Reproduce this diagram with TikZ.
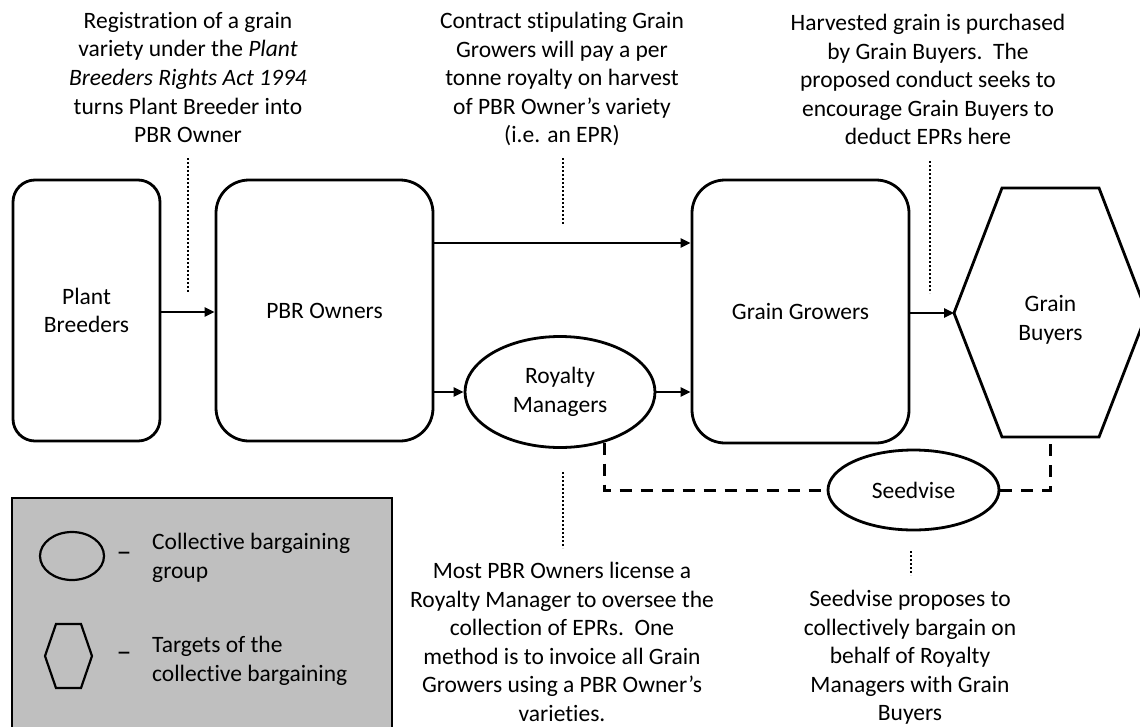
\documentclass[tikz,border=0pt]{standalone}
\usepackage{fontspec}
\setmainfont{Carlito}[Ligatures={NoCommon}]
\usetikzlibrary{shapes.geometric,arrows.meta}
\begin{document}
\begin{tikzpicture}[x=1pt,y=-1pt,
  every node/.style={font=\fontsize{23.5}{28.6}\selectfont,inner sep=0pt,align=center},
  actor/.style={draw,line width=2.8pt},
  oval/.style={draw,ellipse,line width=2.8pt},
  flow/.style={line width=2.4pt,-{Triangle[length=10pt,width=9pt]}},
  link/.style={line width=3pt,dash pattern=on 12pt off 9pt},
  note/.style={line width=2pt,dash pattern=on 1.6pt off 2.4pt},
  remark/.style={anchor=north,align=center},
  lgdash/.style={font=\fontsize{30}{30}\selectfont}]
\useasboundingbox (0,0) rectangle (1140,726);
\clip (0,0) rectangle (1140,726);

% legend box
\draw[fill={rgb,255:red,191;green,191;blue,191},line width=2pt] (12,498) rectangle (392,760);
\node[draw,ellipse,line width=2.2pt,minimum width=64pt,minimum height=48pt] (lgov) at (72,556) {};
\node[lgdash] (lgd1) at (124,557) {–};
\node[anchor=north west,align=left] (lgt1) at (152,533) {Collective bargaining\\group};
\draw[line width=2.2pt] (45,656) -- (56,624) -- (81,624) -- (92,656) -- (81,688) -- (56,688) -- cycle;
\coordinate (lghx) at (68.5,656);
\node[lgdash] (lgd2) at (124,657) {–};
\node[anchor=north west,align=left] (lgt2) at (152,636) {Targets of the\\collective bargaining};

% main boxes
\node[actor,rounded corners=22pt,minimum width=147pt,minimum height=261pt] (pb) at (86.5,310.5) {Plant\\Breeders};
\node[actor,rounded corners=33pt,minimum width=217pt,minimum height=261pt] (pbr) at (324.5,310.5) {PBR Owners};
\node[actor,rounded corners=33pt,minimum width=217pt,minimum height=263pt] (gg) at (800.5,311.5) {Grain Growers};
\node[oval,minimum width=190pt,minimum height=111pt] (rm) at (560,392) {Royalty\\Managers};
\node[oval,minimum width=171pt,minimum height=80pt] (sv) at (913.5,490) {Seedvise};

% grain buyers hexagon
\node (gb) at (1050.5,320) {Grain\\Buyers};
\coordinate (gbL) at (954,313);
\coordinate (gbB) at (1050,437);
\draw[line width=2.8pt] (gbL) -- (1002,188) -- (1099,188) -- (1147,313) -- (1099,437) -- (1002,437) -- cycle;

% flows
\draw[flow] (pb.east |- 0,312) -- (pbr.west |- 0,312);
\draw[flow] (pbr.east |- 0,243) -- (gg.west |- 0,243);
\draw[flow] (pbr.east |- rm.west) -- (rm.west);
\draw[flow] (rm.east) -- (gg.west |- rm.east);
\draw[flow] (gg.east |- gbL) -- (gbL);

% dashed links
\draw[link] (rm.-49) |- (sv.west);
\draw[link] (sv.east) -| (gbB);

% annotation texts
\node[remark] (t1) at (188,12) {Registration of a grain\\variety under the \textit{Plant}\\\textit{Breeders Rights Act 1994}\\turns Plant Breeder into\\PBR Owner};
\node[remark] (t2) at (562,12) {Contract stipulating Grain\\Growers will pay a per\\tonne royalty on harvest\\of PBR Owner’s variety\\(i.e. an EPR)};
\node[remark] (t3) at (928,14) {Harvested grain is purchased\\by Grain Buyers.\ \ The\\proposed conduct seeks to\\encourage Grain Buyers to\\deduct EPRs here};
\node[remark] (t4) at (562,562) {Most PBR Owners license a\\Royalty Manager to oversee the\\collection of EPRs.\ \ One\\method is to invoice all Grain\\Growers using a PBR Owner’s\\varieties.};
\node[remark] (t5) at (910,590) {Seedvise proposes to\\collectively bargain on\\behalf of Royalty\\Managers with Grain\\Buyers};

% dotted leaders
\coordinate (d1a) at (188,158); \coordinate (d1b) at (188,293);
\coordinate (d2a) at (563,158); \coordinate (d2b) at (563,224);
\coordinate (d3a) at (930,161); \coordinate (d3b) at (930,293);
\coordinate (d4a) at (563,472); \coordinate (d4b) at (563,548);
\coordinate (d5a) at (911,551); \coordinate (d5b) at (911,575);
\draw[note] (d1a) -- (d1b);
\draw[note] (d2a) -- (d2b);
\draw[note] (d3a) -- (d3b);
\draw[note] (d4a) -- (d4b);
\draw[note] (d5a) -- (d5b);
\end{tikzpicture}
\end{document}
